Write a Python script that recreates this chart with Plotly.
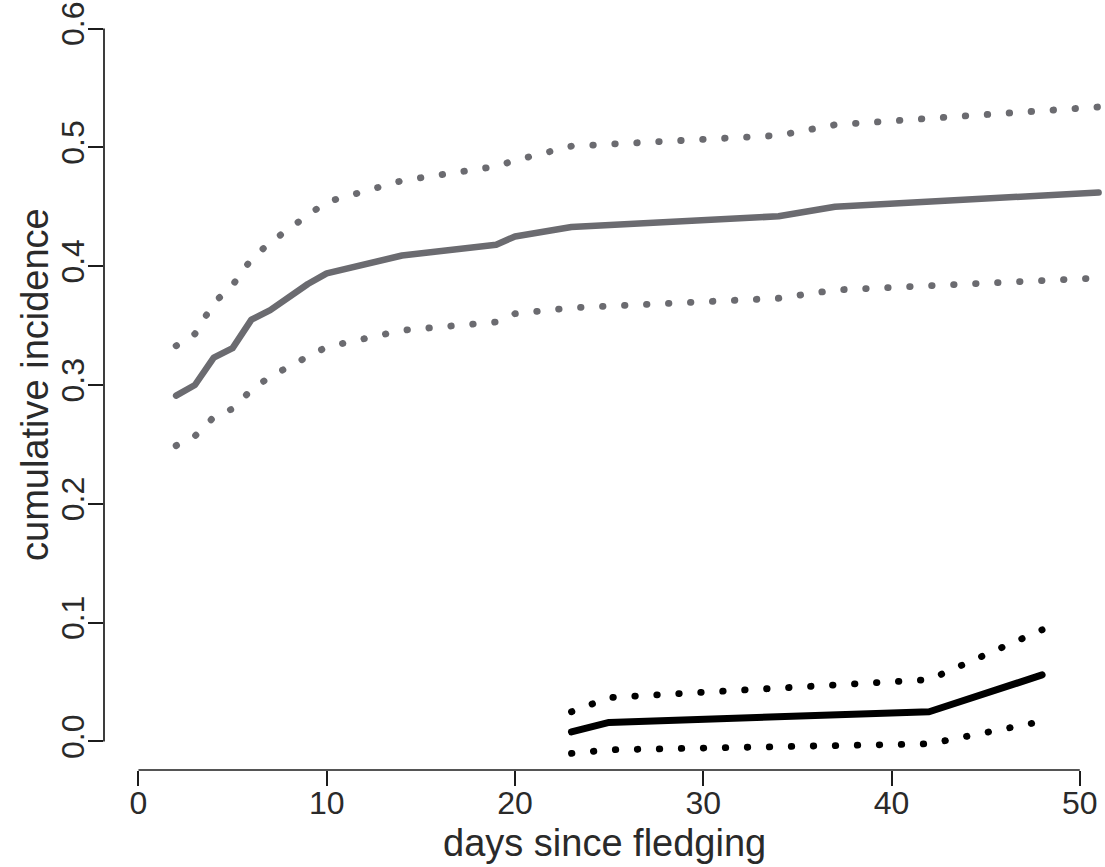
import plotly.graph_objects as go

# Cumulative incidence over days since fledging: two outcome groups,
# each with a point estimate and lower/upper confidence bounds.
days_a = [2, 3, 4, 5, 6, 7, 9, 10, 14, 19, 20, 23, 34, 37, 51]
est_a = [0.291, 0.300, 0.323, 0.331, 0.355, 0.363, 0.385, 0.394, 0.409, 0.418, 0.425,
         0.433, 0.442, 0.450, 0.462]
upper_a = [0.333, 0.343, 0.369, 0.384, 0.406, 0.420, 0.443, 0.454, 0.472, 0.484, 0.489,
           0.501, 0.510, 0.519, 0.534]
lower_a = [0.249, 0.257, 0.273, 0.280, 0.296, 0.307, 0.324, 0.332, 0.346, 0.353, 0.360,
           0.365, 0.373, 0.380, 0.390]

days_b = [23, 25, 42, 48]
est_b = [0.008, 0.016, 0.025, 0.056]
upper_b = [0.025, 0.037, 0.052, 0.094]
lower_b = [-0.010, -0.007, -0.002, 0.017]

x_ticks = [0, 10, 20, 30, 40, 50]
y_ticks = [0.0, 0.1, 0.2, 0.3, 0.4, 0.5, 0.6]
y_tick_text = ["0.0", "0.1", "0.2", "0.3", "0.4", "0.5", "0.6"]

GREY = "#6b6b70"
BLACK = "#000000"
AXIS = "#1c1c1c"
TEXT = "#2a2a2a"
FONT = "Liberation Sans, Arial, sans-serif"
DOT = "0.5px,21.5px"

fig = go.Figure()


def add_curve(x, y, color, width, dash):
    fig.add_trace(go.Scatter(x=x, y=y, mode="lines",
                             line=dict(color=color, width=width, dash=dash),
                             hoverinfo="skip", showlegend=False))


add_curve(days_a, upper_a, GREY, 6.8, DOT)
add_curve(days_a, lower_a, GREY, 6.8, DOT)
add_curve(days_a, est_a, GREY, 6.5, "solid")
add_curve(days_b, upper_b, BLACK, 6.8, DOT)
add_curve(days_b, lower_b, BLACK, 6.8, DOT)
add_curve(days_b, est_b, BLACK, 7, "solid")

# Axis lines only span the tick range
fig.add_shape(type="line", xref="paper", yref="y", x0=0, x1=0,
              y0=y_ticks[0], y1=y_ticks[-1], line=dict(color=AXIS, width=1.7))
fig.add_shape(type="line", xref="x", yref="paper", x0=x_ticks[0], x1=x_ticks[-1],
              y0=0, y1=0, line=dict(color=AXIS, width=1.7))

fig.update_xaxes(range=[-1.83, 51.34], showgrid=False, zeroline=False, showline=False,
                 tickmode="array", tickvals=x_ticks, ticks="outside", ticklen=15,
                 tickwidth=1.7, tickcolor=AXIS, ticklabelstandoff=-10,
                 tickfont=dict(family=FONT, size=32, color=TEXT))
fig.update_yaxes(range=[-0.024, 0.624], showgrid=False, zeroline=False, showline=False,
                 tickmode="array", tickvals=y_ticks, ticktext=y_tick_text,
                 ticks="outside", ticklen=15, tickwidth=1.7, tickcolor=AXIS,
                 tickangle=-90, ticklabelstandoff=-9,
                 tickfont=dict(family=FONT, size=32, color=TEXT))

fig.add_annotation(text="days since fledging", xref="paper", yref="paper",
                   x=0.5, y=0, yanchor="middle", yshift=-73, showarrow=False,
                   font=dict(family=FONT, size=38, color=TEXT))
fig.add_annotation(text="cumulative incidence", xref="paper", yref="paper",
                   x=0, y=0.5, xanchor="center", yanchor="middle", xshift=-69,
                   textangle=-90, showarrow=False,
                   font=dict(family=FONT, size=38, color=TEXT))

fig.update_layout(width=1105, height=867, plot_bgcolor="white", paper_bgcolor="white",
                  margin=dict(l=104, r=0, t=0, b=97))

# Round line caps so dotted bounds render as round dots, as in base R graphics
post = ("document.querySelectorAll('.scatterlayer .js-line').forEach(function(p){"
        "p.style.strokeLinecap='round';p.style.strokeLinejoin='round';});")
fig.write_html("out.html", post_script=post)
